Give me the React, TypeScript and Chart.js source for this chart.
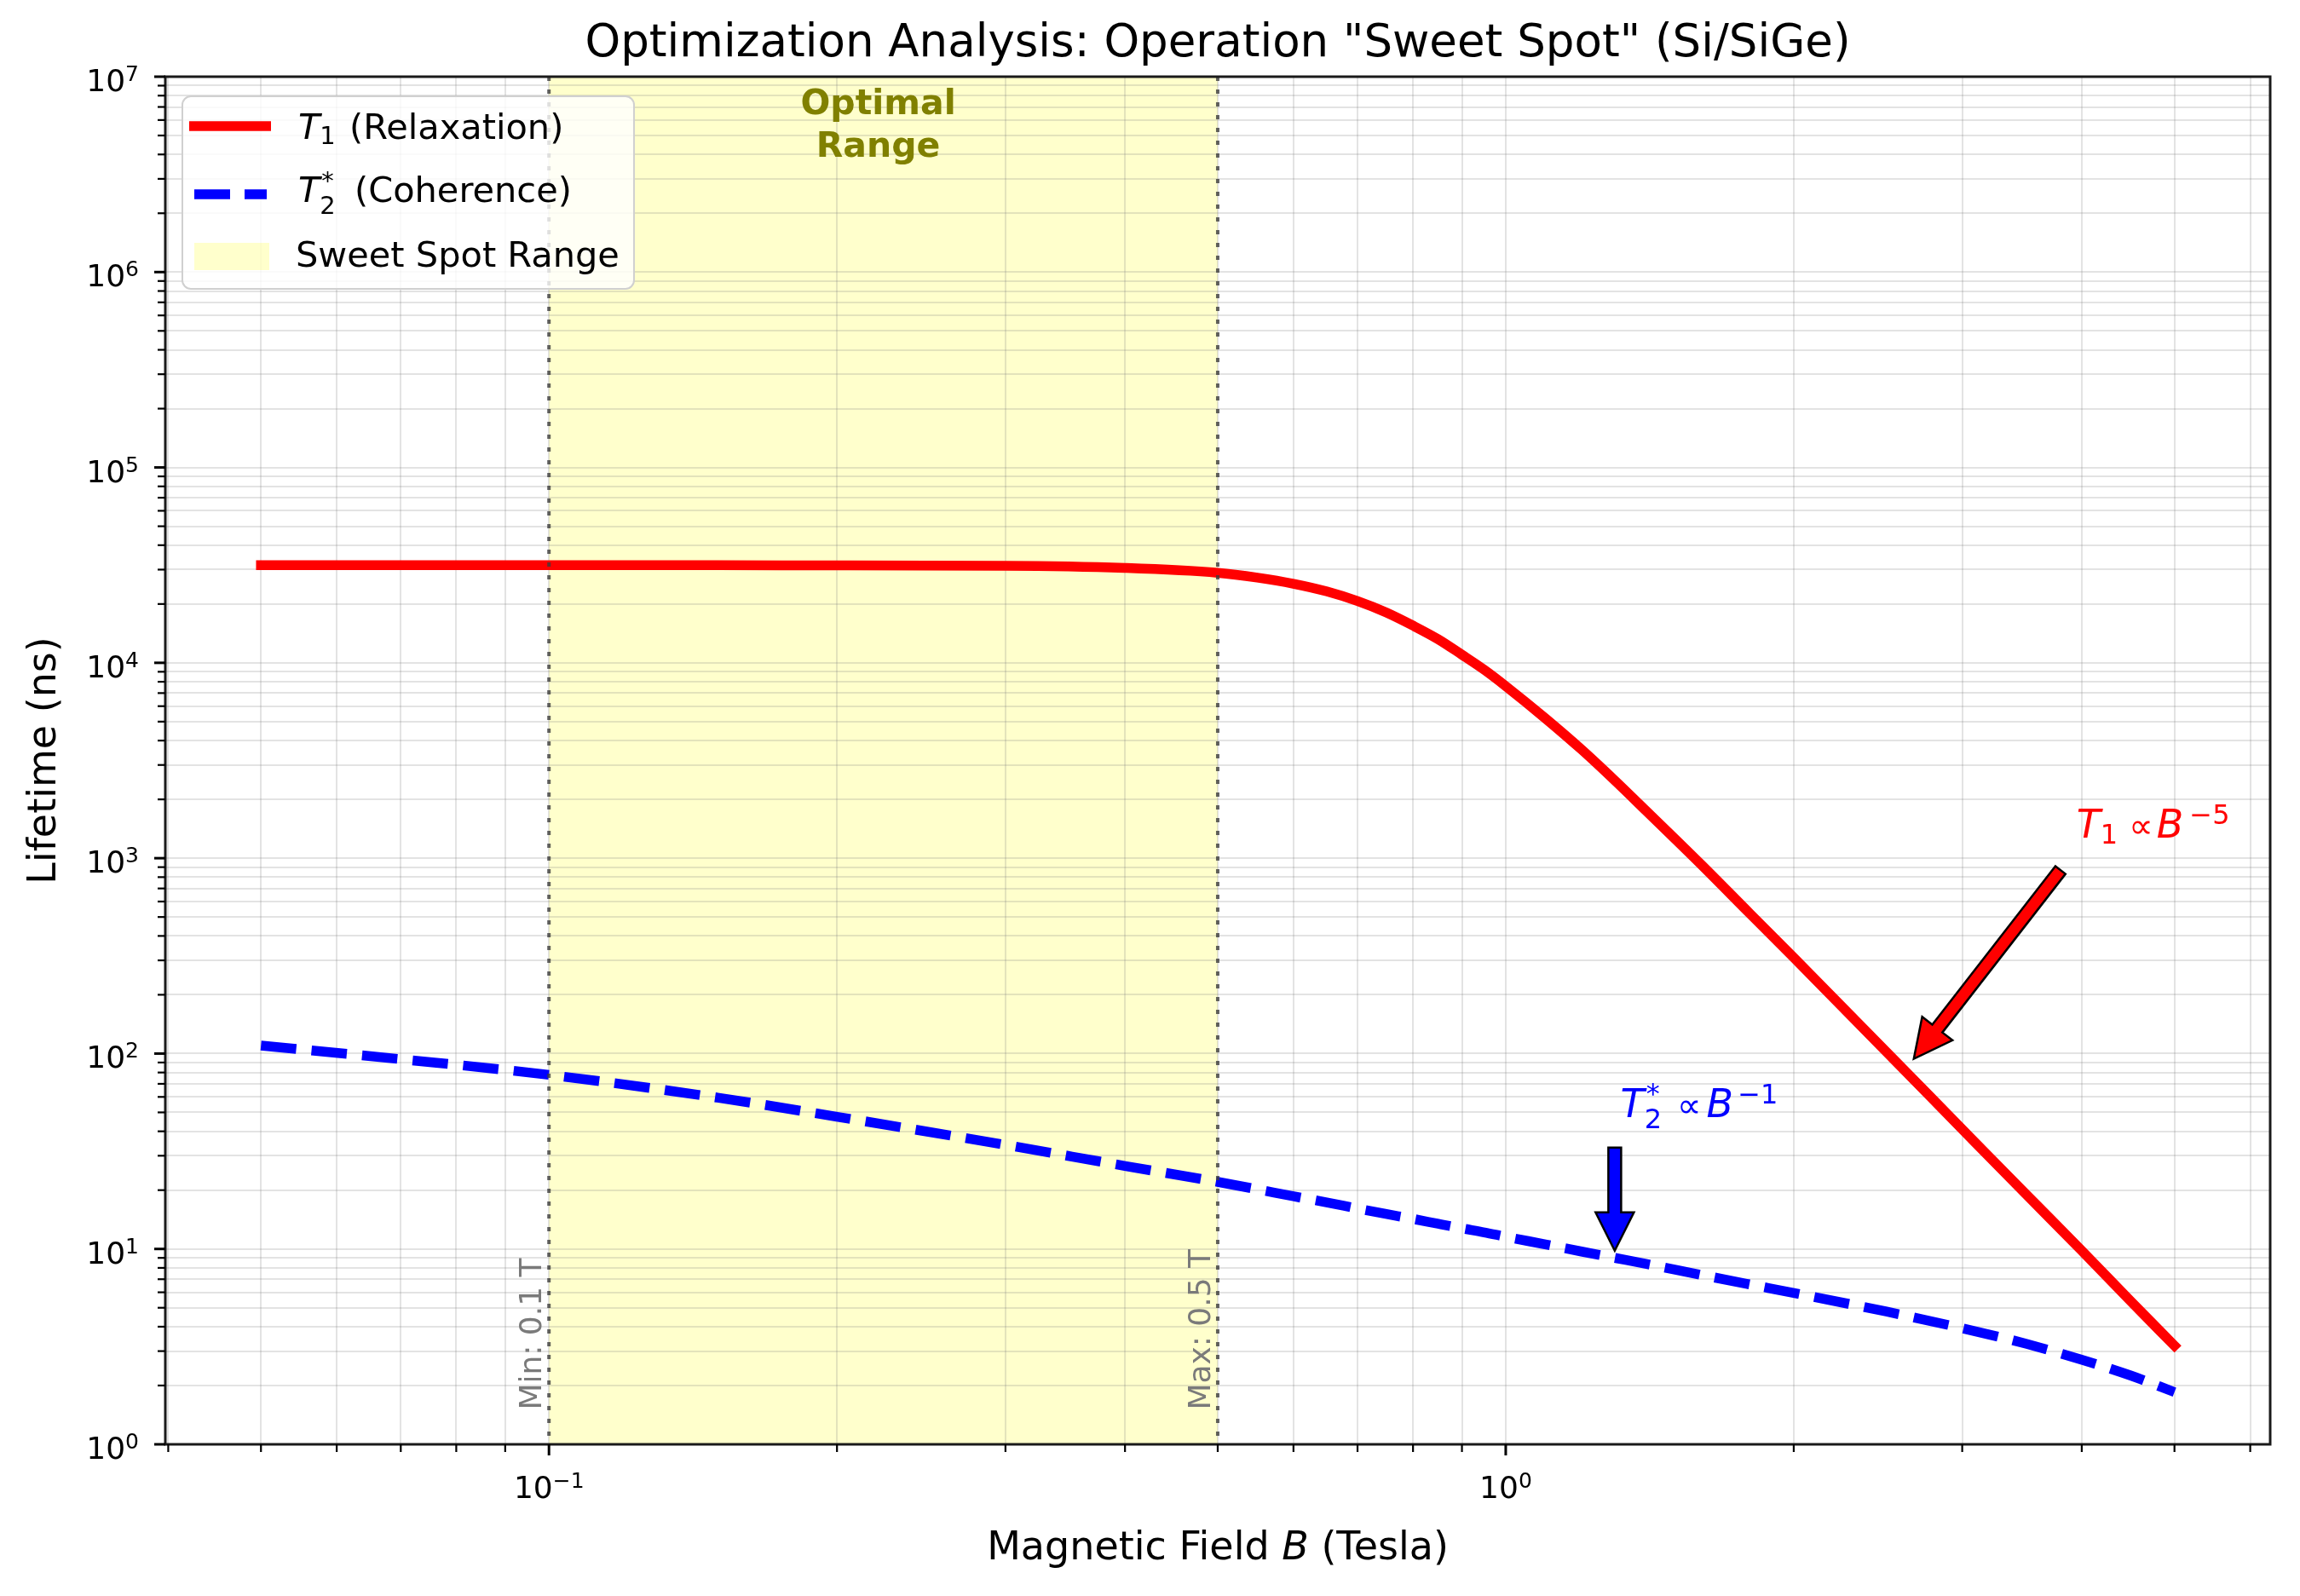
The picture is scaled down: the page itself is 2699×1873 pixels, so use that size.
import React, { useEffect, useRef } from "react";
import { Chart, registerables } from "chart.js";

Chart.register(...registerables);

const W = 2699;
const H = 1873;
const FONT = '"DejaVu Sans", "Liberation Sans", sans-serif';

// ---- data ----
const FIELD_B = [0.05, 0.07, 0.1, 0.15, 0.2, 0.3, 0.4, 0.5, 0.55, 0.6, 0.65, 0.7, 0.75, 0.8, 0.85, 0.9, 0.95, 1.0, 1.1, 1.2, 1.3, 1.4, 1.6, 1.8, 2.0, 2.5, 3.0, 3.5, 4.0, 4.5, 5.0];
const T1_NS = [31600, 31600, 31600, 31600, 31500, 31400, 30600, 28900, 27300, 25400, 23200, 20700, 18100, 15500, 13200, 11000, 9200, 7600, 5200, 3600, 2500, 1760, 930, 520, 310, 102, 41, 19, 9.8, 5.4, 3.2];
const T2_NS = [110, 93.6, 77.8, 59.5, 47.5, 34.1, 26.6, 22.05, 20.2, 18.6, 17.3, 16.1, 15.1, 14.25, 13.45, 12.75, 12.15, 11.55, 10.55, 9.7, 9.0, 8.4, 7.37, 6.58, 5.95, 4.78, 3.93, 3.27, 2.71, 2.25, 1.85];

const SERIES_LABELS = ["T1 (Relaxation)", "T2* (Coherence)"];
const SPAN_B = [0.1, 0.5];
const SPAN_LABELS = ["Min: 0.1 T", "Max: 0.5 T"];
const SPAN_LABEL_Y = 1.5;
const OPTIMAL_TEXT = ["Optimal", "Range"];

const X_RANGE = [0.03972, 6.295];
const Y_RANGE = [1, 1e7];
const X_MAJOR = [0.1, 1];
const X_MAJOR_EXP = ["\u22121", "0"];
const X_MINOR = [0.04, 0.05, 0.06, 0.07, 0.08, 0.09, 0.2, 0.3, 0.4, 0.5, 0.6, 0.7, 0.8, 0.9, 2, 3, 4, 5, 6];
const Y_MAJOR = [1, 10, 100, 1000, 10000, 100000, 1000000, 10000000];
const Y_MAJOR_EXP = ["0", "1", "2", "3", "4", "5", "6", "7"];
const MINOR_MULT = [2, 3, 4, 5, 6, 7, 8, 9];

// annotations in data coordinates [B, T]
const T1_NOTE_TEXT = [3.95, 1280];
const T1_ARROW_TAIL = [3.8, 870];
const T1_ARROW_TIP = [2.67, 94];
const T2_NOTE_TEXT = [1.318, 47.4];
const T2_ARROW_TAIL = [1.3, 33];
const T2_ARROW_TIP = [1.3, 9.8];

const RED = "#ff0000";
const BLUE = "#0000ff";
const SPAN_COLOR = "rgba(255,255,0,0.2)";
const GRID = "rgba(128,128,128,0.22)";

type Seg = { t?: string; size: number; italic?: boolean; bold?: boolean; dy?: number; padL?: number; padR?: number; stack?: Seg[] };

const fnt = (s: Seg) => `${s.italic ? "italic " : ""}${s.bold ? "bold " : ""}${s.size}px ${FONT}`;

function segWidth(ctx: CanvasRenderingContext2D, s: Seg): number {
  if (s.stack) return Math.max(...s.stack.map((q) => segWidth(ctx, q))) + (s.padL || 0) + (s.padR || 0);
  ctx.font = fnt(s);
  return ctx.measureText(s.t || "").width + (s.padL || 0) + (s.padR || 0);
}

function drawRich(ctx: CanvasRenderingContext2D, segs: Seg[], x: number, y: number, align: string, color: string) {
  const total = segs.reduce((a, s) => a + segWidth(ctx, s), 0);
  let cx = align === "left" ? x : align === "center" ? x - total / 2 : x - total;
  ctx.fillStyle = color;
  ctx.textAlign = "left";
  ctx.textBaseline = "alphabetic";
  for (const s of segs) {
    const w = segWidth(ctx, s);
    if (s.stack) {
      for (const p of s.stack) {
        ctx.font = fnt(p);
        ctx.fillText(p.t || "", cx + (s.padL || 0) + (p.padL || 0), y + (p.dy || 0));
      }
    } else {
      ctx.font = fnt(s);
      ctx.fillText(s.t || "", cx + (s.padL || 0), y + (s.dy || 0));
    }
    cx += w;
  }
}

function drawArrow(ctx: CanvasRenderingContext2D, x0: number, y0: number, x1: number, y1: number, color: string) {
  const shaft = 15, headW = 45, headL = 45;
  const len = Math.hypot(x1 - x0, y1 - y0);
  const ux = (x1 - x0) / len, uy = (y1 - y0) / len;
  const nx = -uy, ny = ux;
  const bx = x1 - ux * headL, by = y1 - uy * headL;
  ctx.beginPath();
  ctx.moveTo(x0 + nx * shaft / 2, y0 + ny * shaft / 2);
  ctx.lineTo(bx + nx * shaft / 2, by + ny * shaft / 2);
  ctx.lineTo(bx + nx * headW / 2, by + ny * headW / 2);
  ctx.lineTo(x1, y1);
  ctx.lineTo(bx - nx * headW / 2, by - ny * headW / 2);
  ctx.lineTo(bx - nx * shaft / 2, by - ny * shaft / 2);
  ctx.lineTo(x0 - nx * shaft / 2, y0 - ny * shaft / 2);
  ctx.closePath();
  ctx.fillStyle = color;
  ctx.fill();
  ctx.lineWidth = 2.5;
  ctx.strokeStyle = "#000";
  ctx.lineJoin = "miter";
  ctx.stroke();
}

const decorPlugin = {
  id: "decor",
  beforeDraw(chart: any) {
    const { ctx, chartArea: ca, scales } = chart;
    const x = scales.x;
    ctx.save();
    ctx.fillStyle = "#ffffff";
    ctx.fillRect(0, 0, W, H);
    const x0 = x.getPixelForValue(SPAN_B[0]);
    const x1 = x.getPixelForValue(SPAN_B[1]);
    ctx.fillStyle = SPAN_COLOR;
    ctx.fillRect(x0, ca.top, x1 - x0, ca.bottom - ca.top);
    ctx.restore();
  },
  afterDraw(chart: any) {
    const { ctx, chartArea: ca, scales } = chart;
    const xs = scales.x, ys = scales.y;
    const px = (v: number) => xs.getPixelForValue(v);
    const py = (v: number) => ys.getPixelForValue(v);
    ctx.save();

    // dotted span boundaries + rotated labels
    SPAN_B.forEach((b, i) => {
      const xp = px(b);
      ctx.beginPath();
      ctx.setLineDash([5, 10]);
      ctx.lineWidth = 4;
      ctx.strokeStyle = "rgba(60,60,60,0.8)";
      ctx.moveTo(xp, ca.top);
      ctx.lineTo(xp, ca.bottom);
      ctx.stroke();
      ctx.setLineDash([]);
      ctx.save();
      ctx.translate(xp - 9, py(SPAN_LABEL_Y));
      ctx.rotate(-Math.PI / 2);
      ctx.font = `36px ${FONT}`;
      ctx.fillStyle = "#7a7a7a";
      ctx.textAlign = "left";
      ctx.textBaseline = "alphabetic";
      ctx.fillText(SPAN_LABELS[i], 0, 0);
      ctx.restore();
    });

    // Optimal Range label
    const cxSpan = (px(SPAN_B[0]) + px(SPAN_B[1])) / 2;
    ctx.font = `bold 41px ${FONT}`;
    ctx.fillStyle = "#808000";
    ctx.textAlign = "center";
    ctx.textBaseline = "alphabetic";
    ctx.fillText(OPTIMAL_TEXT[0], cxSpan - 6, ca.top + 44);
    ctx.fillText(OPTIMAL_TEXT[1], cxSpan - 6, ca.top + 94);

    // annotations
    drawArrow(ctx, px(T1_ARROW_TAIL[0]), py(T1_ARROW_TAIL[1]), px(T1_ARROW_TIP[0]), py(T1_ARROW_TIP[1]), RED);
    drawArrow(ctx, px(T2_ARROW_TAIL[0]), py(T2_ARROW_TAIL[1]), px(T2_ARROW_TIP[0]), py(T2_ARROW_TIP[1]), BLUE);
    drawRich(ctx, [
      { t: "T", size: 46, italic: true },
      { t: "1", size: 32, dy: 7 },
      { t: "\u221D", size: 40, padL: 13, padR: 4 },
      { t: "B", size: 46, italic: true },
      { t: "\u22125", size: 32, dy: -16, padL: 7 },
    ], px(T1_NOTE_TEXT[0]), py(T1_NOTE_TEXT[1]), "left", RED);
    drawRich(ctx, [
      { t: "T", size: 46, italic: true },
      { size: 32, padR: 4, stack: [{ t: "2", size: 32, dy: 13 }, { t: "*", size: 32, dy: -17, padL: 2 }] },
      { t: "\u221D", size: 40, padL: 14, padR: 6 },
      { t: "B", size: 46, italic: true },
      { t: "\u22121", size: 32, dy: -16, padL: 5 },
    ], px(T2_NOTE_TEXT[0]), py(T2_NOTE_TEXT[1]), "left", BLUE);

    // frame
    ctx.lineWidth = 3;
    ctx.strokeStyle = "#1a1a1a";
    ctx.strokeRect(ca.left, ca.top, ca.right - ca.left, ca.bottom - ca.top);

    // tick marks
    ctx.strokeStyle = "#000";
    const xTick = (v: number, len: number, w: number) => {
      const xp = px(v);
      ctx.lineWidth = w;
      ctx.beginPath();
      ctx.moveTo(xp, ca.bottom);
      ctx.lineTo(xp, ca.bottom + len);
      ctx.stroke();
    };
    const yTick = (v: number, len: number, w: number) => {
      const yp = py(v);
      ctx.lineWidth = w;
      ctx.beginPath();
      ctx.moveTo(ca.left, yp);
      ctx.lineTo(ca.left - len, yp);
      ctx.stroke();
    };
    X_MINOR.forEach((v) => xTick(v, 9, 2.2));
    X_MAJOR.forEach((v) => xTick(v, 13, 3));
    Y_MAJOR.forEach((v) => {
      yTick(v, 13, 3);
      if (v < Y_RANGE[1]) MINOR_MULT.forEach((m) => yTick(v * m, 9, 2.2));
    });

    // tick labels
    X_MAJOR.forEach((v, i) => {
      drawRich(ctx, [{ t: "10", size: 36 }, { t: X_MAJOR_EXP[i], size: 25, dy: -12 }], px(v), ca.bottom + 63, "center", "#000");
    });
    Y_MAJOR.forEach((v, i) => {
      drawRich(ctx, [{ t: "10", size: 36 }, { t: Y_MAJOR_EXP[i], size: 25, dy: -12 }], ca.left - 31, py(v) + 17, "right", "#000");
    });

    // axis titles
    drawRich(ctx, [
      { t: "Magnetic Field ", size: 46 },
      { t: "B", size: 46, italic: true },
      { t: " (Tesla)", size: 46 },
    ], (ca.left + ca.right) / 2, ca.bottom + 135, "center", "#000");
    ctx.save();
    ctx.translate(ca.left - 129, (ca.top + ca.bottom) / 2);
    ctx.rotate(-Math.PI / 2);
    ctx.font = `46px ${FONT}`;
    ctx.fillStyle = "#000";
    ctx.textAlign = "center";
    ctx.textBaseline = "alphabetic";
    ctx.fillText("Lifetime (ns)", 0, 0);
    ctx.restore();

    // title
    ctx.font = `53px ${FONT}`;
    ctx.fillStyle = "#000";
    ctx.textAlign = "center";
    ctx.textBaseline = "alphabetic";
    ctx.fillText('Optimization Analysis: Operation "Sweet Spot" (Si/SiGe)', (ca.left + ca.right) / 2, ca.top - 24);

    // legend
    const lx = ca.left + 20, ly = ca.top + 23, lw = 530, lh = 226;
    ctx.beginPath();
    ctx.roundRect(lx, ly, lw, lh, 10);
    ctx.fillStyle = "rgba(255,255,255,0.8)";
    ctx.fill();
    ctx.lineWidth = 2;
    ctx.strokeStyle = "#d0d0d0";
    ctx.stroke();
    const hx0 = ca.left + 28, hx1 = ca.left + 124;
    ctx.lineCap = "butt";
    ctx.lineWidth = 11.5;
    ctx.strokeStyle = RED;
    ctx.beginPath();
    ctx.moveTo(hx0, ca.top + 58);
    ctx.lineTo(hx1, ca.top + 58);
    ctx.stroke();
    ctx.strokeStyle = BLUE;
    ctx.setLineDash([42, 17]);
    ctx.beginPath();
    ctx.moveTo(hx0 + 6, ca.top + 138);
    ctx.lineTo(hx1 - 5, ca.top + 138);
    ctx.stroke();
    ctx.setLineDash([]);
    ctx.fillStyle = SPAN_COLOR;
    ctx.fillRect(hx0 + 6, ca.top + 195, hx1 - hx0 - 8, 32);
    const tx = ca.left + 153;
    drawRich(ctx, [
      { t: "T", size: 41.5, italic: true },
      { t: "1", size: 29, dy: 6 },
      { t: " (Relaxation)", size: 41.5, padL: 3 },
    ], tx + 3, ca.top + 73, "left", "#000");
    drawRich(ctx, [
      { t: "T", size: 41.5, italic: true },
      { size: 29, padR: 6, stack: [{ t: "2", size: 29, dy: 14 }, { t: "*", size: 29, dy: -15, padL: 2 }] },
      { t: " (Coherence)", size: 41.5, padL: 3 },
    ], tx + 3, ca.top + 147, "left", "#000");
    drawRich(ctx, [{ t: "Sweet Spot Range", size: 41.5 }], tx, ca.top + 223, "left", "#000");

    ctx.restore();
  },
};

export default function App() {
  const ref = useRef<HTMLCanvasElement>(null);
  useEffect(() => {
    const canvas = ref.current;
    if (!canvas) return;
    const chart = new Chart(canvas, {
      type: "line",
      data: {
        datasets: [
          {
            label: SERIES_LABELS[0],
            data: FIELD_B.map((b, i) => ({ x: b, y: T1_NS[i] })),
            borderColor: RED,
            borderWidth: 11.5,
            pointRadius: 0,
            cubicInterpolationMode: "monotone",
            borderCapStyle: "square",
            borderJoinStyle: "round",
            fill: false,
          },
          {
            label: SERIES_LABELS[1],
            data: FIELD_B.map((b, i) => ({ x: b, y: T2_NS[i] })),
            borderColor: BLUE,
            borderWidth: 11.5,
            borderDash: [41.6, 18],
            pointRadius: 0,
            cubicInterpolationMode: "monotone",
            borderCapStyle: "butt",
            borderJoinStyle: "round",
            fill: false,
          },
        ],
      } as any,
      options: {
        responsive: false,
        animation: false,
        devicePixelRatio: 1,
        layout: { padding: { top: 90, right: 35, left: 0, bottom: 0 } },
        plugins: {
          legend: { display: false },
          title: { display: false },
          tooltip: { enabled: false },
        },
        scales: {
          x: {
            type: "logarithmic",
            min: X_RANGE[0],
            max: X_RANGE[1],
            afterBuildTicks: (s: any) => {
              s.ticks = [...X_MINOR, ...X_MAJOR].sort((a, b) => a - b).map((v) => ({ value: v }));
            },
            afterFit: (s: any) => {
              s.height = 178;
            },
            ticks: { display: false },
            grid: { color: GRID, lineWidth: 2, drawTicks: false },
            border: { display: false },
          },
          y: {
            type: "logarithmic",
            min: Y_RANGE[0],
            max: Y_RANGE[1],
            afterBuildTicks: (s: any) => {
              const t: number[] = [];
              Y_MAJOR.forEach((v) => {
                t.push(v);
                if (v < Y_RANGE[1]) MINOR_MULT.forEach((m) => t.push(v * m));
              });
              s.ticks = t.map((v) => ({ value: v }));
            },
            afterFit: (s: any) => {
              s.width = 194;
            },
            ticks: { display: false },
            grid: { color: GRID, lineWidth: 2, drawTicks: false },
            border: { display: false },
          },
        },
      } as any,
      plugins: [decorPlugin],
    });
    return () => chart.destroy();
  }, []);
  return (
    <div style={{ position: "absolute", left: 0, top: 0, width: W, height: H, background: "#fff" }}>
      <canvas ref={ref} width={W} height={H} style={{ display: "block", width: W, height: H }} />
    </div>
  );
}
